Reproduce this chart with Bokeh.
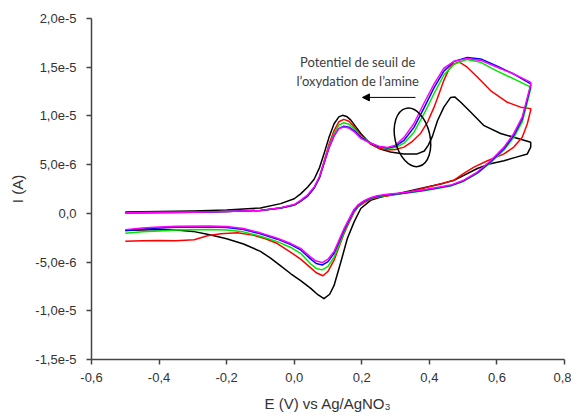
import numpy as np
from bokeh.plotting import figure
from bokeh.models import FixedTicker, Arrow, NormalHead, Range1d
from bokeh.core.properties import value
from bokeh.embed import file_html
from bokeh.resources import INLINE

# ---------------- data (E in V, I in microampere) ----------------
black_E_fwd = [-0.5, -0.4, -0.3, -0.2, -0.1, -0.04, 0.0, 0.019, 0.04, 0.059, 0.075, 0.088, 0.103, 0.118,
               0.132, 0.143, 0.155, 0.167, 0.182, 0.197, 0.227, 0.255, 0.285, 0.325, 0.364, 0.385, 0.397,
               0.409, 0.424, 0.443, 0.463, 0.475, 0.493, 0.522, 0.562, 0.611, 0.66, 0.7]
black_I_fwd = [0.15, 0.2, 0.25, 0.35, 0.55, 1.0, 1.5, 2.0, 2.7, 3.5, 4.7, 6.1, 7.8, 9.2,
               9.9, 10.06, 9.95, 9.6, 8.9, 8.2, 7.1, 6.6, 6.3, 6.1, 6.1, 6.4, 7.0,
               7.9, 9.5, 10.9, 11.9, 11.95, 11.4, 10.4, 9.0, 8.2, 7.7, 7.3]
black_E_rev = [0.7, 0.69, 0.66, 0.621, 0.581, 0.542, 0.502, 0.473, 0.443, 0.4, 0.315, 0.256, 0.226, 0.197,
               0.177, 0.157, 0.138, 0.118, 0.105, 0.088, 0.07, 0.049, 0.019, -0.01, -0.04, -0.07, -0.1,
               -0.15, -0.2, -0.25, -0.3, -0.35, -0.4, -0.45, -0.5]
black_I_rev = [6.8, 6.1, 5.8, 5.4, 5.1, 4.6, 3.9, 3.4, 3.1, 2.75, 2.1, 1.67, 1.33, 0.5,
               -0.9, -2.6, -5.0, -7.4, -8.3, -8.76, -8.35, -7.7, -6.9, -6.2, -5.4, -4.6, -3.9,
               -3.15, -2.6, -2.2, -1.85, -1.7, -1.65, -1.7, -1.75]

red_E_fwd = [-0.5, -0.4, -0.3, -0.2, -0.1, -0.04, 0.0, 0.019, 0.04, 0.059, 0.075, 0.088, 0.103, 0.118,
             0.132, 0.147, 0.162, 0.177, 0.197, 0.227, 0.25, 0.276, 0.3, 0.325, 0.35, 0.374, 0.395,
             0.414, 0.43, 0.443, 0.458, 0.47, 0.488, 0.512, 0.542, 0.581, 0.631, 0.67, 0.7]
red_I_fwd = [0.05, 0.08, 0.12, 0.18, 0.3, 0.55, 0.85, 1.25, 1.8, 2.6, 3.7, 5.3, 7.1, 8.5,
             9.4, 9.65, 9.45, 8.9, 8.0, 7.1, 6.7, 6.5, 6.55, 6.8, 7.4, 8.2, 9.4,
             10.9, 12.4, 13.65, 14.8, 15.3, 15.55, 15.0, 14.0, 12.6, 11.4, 10.9, 10.75]
red_E_rev = [0.7, 0.69, 0.675, 0.65, 0.621, 0.572, 0.532, 0.502, 0.473, 0.424, 0.374, 0.315, 0.276, 0.246,
             0.226, 0.207, 0.19, 0.177, 0.162, 0.147, 0.132, 0.118, 0.1, 0.085, 0.065, 0.049, 0.019,
             -0.01, -0.05, -0.085, -0.119, -0.168, -0.217, -0.257, -0.296, -0.35, -0.4, -0.45, -0.5]
red_I_rev = [10.6, 9.2, 7.8, 6.8, 6.1, 5.4, 4.75, 4.1, 3.4, 2.95, 2.5, 2.0, 1.8, 1.65,
             1.45, 1.1, 0.7, 0.1, -0.95, -2.1, -3.5, -4.8, -5.95, -6.4, -6.1, -5.6, -4.7,
             -4.0, -3.1, -2.6, -2.26, -2.0, -2.1, -2.3, -2.7, -2.8, -2.78, -2.82, -2.87]

cyc_E_fwd = [-0.5, -0.4, -0.3, -0.2, -0.1, -0.04, 0.0, 0.019, 0.04, 0.059, 0.075, 0.088, 0.103, 0.118,
             0.132, 0.147, 0.162, 0.177, 0.197, 0.227, 0.25, 0.276, 0.3, 0.325, 0.354, 0.384, 0.414,
             0.443, 0.473, 0.512, 0.552, 0.601, 0.65, 0.7]
cyc_E_rev = [0.7, 0.69, 0.675, 0.65, 0.621, 0.581, 0.542, 0.502, 0.463, 0.414, 0.374, 0.315, 0.276, 0.246,
             0.226, 0.207, 0.19, 0.177, 0.162, 0.147, 0.132, 0.118, 0.1, 0.083, 0.065, 0.049, 0.019,
             -0.01, -0.05, -0.1, -0.15, -0.2, -0.25, -0.35, -0.4, -0.45, -0.5]

green_I_fwd = [0.05, 0.08, 0.12, 0.18, 0.3, 0.55, 0.85, 1.25, 1.8, 2.6, 3.7, 5.2, 6.9, 8.2,
               9.05, 9.3, 9.15, 8.7, 7.9, 7.2, 6.85, 6.65, 6.75, 7.2, 8.3, 10.2, 12.3,
               14.2, 15.3, 15.8, 15.5, 14.6, 13.8, 12.95]
green_I_rev = [12.8, 11.4, 9.4, 7.8, 6.5, 5.2, 4.1, 3.3, 2.8, 2.5, 2.28, 2.0, 1.85, 1.7,
               1.5, 1.2, 0.8, 0.2, -0.8, -1.95, -3.3, -4.5, -5.45, -5.8, -5.65, -5.2, -4.1,
               -3.5, -2.9, -2.35, -1.9, -1.7, -1.65, -1.7, -1.8, -1.9, -2.05]

blue_I_fwd = [0.05, 0.08, 0.12, 0.18, 0.3, 0.55, 0.85, 1.25, 1.8, 2.6, 3.7, 5.1, 6.7, 7.95,
              8.7, 8.95, 8.85, 8.5, 7.8, 7.2, 6.85, 6.7, 6.9, 7.5, 8.8, 10.8, 12.9,
              14.6, 15.6, 16.0, 15.85, 15.1, 14.3, 13.3]
blue_I_rev = [13.1, 11.7, 9.7, 8.0, 6.65, 5.3, 4.15, 3.35, 2.85, 2.55, 2.32, 2.05, 1.9, 1.75,
              1.55, 1.25, 0.85, 0.3, -0.7, -1.75, -3.0, -4.1, -4.95, -5.3, -5.15, -4.7, -3.75,
              -3.2, -2.65, -2.1, -1.65, -1.45, -1.4, -1.43, -1.5, -1.6, -1.75]

magenta_I_fwd = [0.05, 0.08, 0.12, 0.18, 0.3, 0.58, 0.9, 1.33, 1.9, 2.7, 3.8, 5.2, 6.8, 8.0,
                 8.7, 8.86, 8.75, 8.4, 7.7, 7.2, 6.9, 6.75, 7.0, 7.8, 9.2, 11.3, 13.3,
                 14.9, 15.6, 15.9, 15.7, 15.0, 14.3, 13.45]
magenta_I_rev = [13.2, 11.9, 9.9, 8.2, 6.8, 5.4, 4.24, 3.4, 2.9, 2.6, 2.36, 2.1, 1.95, 1.8,
                 1.6, 1.3, 0.9, 0.4, -0.6, -1.6, -2.8, -3.9, -4.7, -5.05, -4.9, -4.5, -3.6,
                 -3.1, -2.55, -2.0, -1.55, -1.35, -1.3, -1.33, -1.4, -1.5, -1.67]

x_ticks = [-0.6, -0.4, -0.2, 0.0, 0.2, 0.4, 0.6, 0.8]
x_tick_labels = ["-0,6", "-0,4", "-0,2", "0,0", "0,2", "0,4", "0,6", "0,8"]
y_ticks = [-1.5e-5, -1.0e-5, -5.0e-6, 0.0, 5.0e-6, 1.0e-5, 1.5e-5, 2.0e-5]
y_tick_labels = ["-1,5e-5", "-1,0e-5", "-5,0e-6", "0,0", "5,0e-6", "1,0e-5", "1,5e-5", "2,0e-5"]

x_title = "E (V) vs Ag/AgNO\u2083"
y_title = "I (A)"
note_lines = ["Potentiel de seuil de", "l\u2019oxydation de l\u2019amine"]

# ---------------- figure ----------------
p = figure(width=571, height=416, output_backend="svg", toolbar_location=None,
           x_range=Range1d(-0.6, 0.8), y_range=Range1d(-1.5e-5, 2.0e-5),
           min_border_left=91, min_border_right=7, min_border_top=18, min_border_bottom=57)
p.outline_line_color = None
p.grid.visible = False
p.background_fill_color = "white"
p.border_fill_color = "white"

AX = "#444444"
TXT = "#333333"
for ax in (p.xaxis[0], p.yaxis[0]):
    ax.axis_line_color = AX
    ax.axis_line_width = 1.5
    ax.major_tick_line_color = AX
    ax.major_tick_line_width = 1.5
    ax.major_tick_in = 0
    ax.major_tick_out = 5
    ax.minor_tick_line_color = None
    ax.major_label_text_font = "Liberation Sans"
    ax.major_label_text_font_size = "13px"
    ax.major_label_text_color = TXT
    ax.axis_label_text_font = "Liberation Sans"
    ax.axis_label_text_font_size = "15px"
    ax.axis_label_text_font_style = "normal"
    ax.axis_label_text_color = TXT

p.xaxis.ticker = FixedTicker(ticks=x_ticks)
p.xaxis.major_label_overrides = dict(zip(x_ticks, x_tick_labels))
p.yaxis.ticker = FixedTicker(ticks=y_ticks)
p.yaxis.major_label_overrides = dict(zip(y_ticks, y_tick_labels))
p.xaxis.axis_label = x_title
p.yaxis.axis_label = y_title
p.xaxis.major_label_standoff = 8
p.yaxis.major_label_standoff = 10
p.xaxis.axis_label_standoff = 10
p.yaxis.axis_label_standoff = 6

uA = 1e-6
curves = [
    (black_E_fwd, black_I_fwd, black_E_rev, black_I_rev, "#000000"),
    (red_E_fwd, red_I_fwd, red_E_rev, red_I_rev, "#ff0000"),
    (cyc_E_fwd, green_I_fwd, cyc_E_rev, green_I_rev, "#00e600"),
    (cyc_E_fwd, blue_I_fwd, cyc_E_rev, blue_I_rev, "#0000ff"),
    (cyc_E_fwd, magenta_I_fwd, cyc_E_rev, magenta_I_rev, "#ff00ff"),
]
for ef, i_f, er, i_r, col in curves:
    xs = list(ef) + list(er)
    ys = (np.array(list(i_f) + list(i_r)) * uA).tolist()
    p.line(xs, ys, line_color=col, line_width=1.5, line_join="round")

# annotation: ellipse, arrow, text
p.ellipse(x=[0.35], y=[7.8e-6], width=35, height=59.5, angle=0.22,
          width_units="screen", height_units="screen",
          fill_color=None, line_color="black", line_width=1.5)
p.add_layout(Arrow(end=NormalHead(size=7, fill_color="black", line_color="black"),
                   x_start=0.359, y_start=11.9e-6, x_end=0.202, y_end=11.9e-6,
                   line_color="black", line_width=1))
p.text(x=[0.188, 0.188], y=[15.5e-6, 13.55e-6], text=note_lines,
       text_font=value("Lato"), text_font_size="13px", text_color="#404040",
       text_align="center", text_baseline="middle")

open("out.html", "w").write(file_html(p, INLINE))
